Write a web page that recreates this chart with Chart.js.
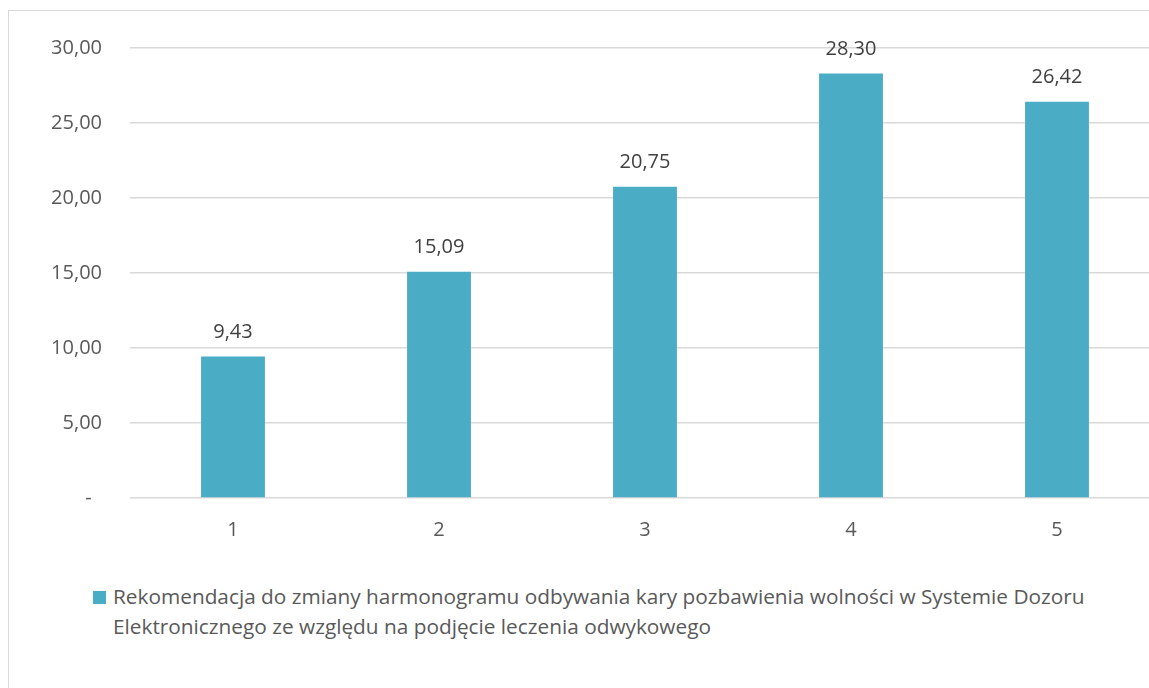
<!DOCTYPE html>
<html>
<head>
<meta charset="utf-8">
<script src="https://cdn.jsdelivr.net/npm/chart.js@4"></script>
<style>
    html, body {
        margin: 0;
        padding: 0;
        background: #ffffff;
        overflow: hidden;
        width: 1149px;
        height: 688px;
        font-family: "Open Sans", sans-serif;
    }
    .frame {
        position: absolute;
        left: 8px;
        top: 10px;
        width: 1200px;
        height: 700px;
        border: 1.5px solid #d9d9d9;
    }
    .chart-wrap {
        position: absolute;
        left: 0;
        top: 0;
        width: 1162px;
        height: 554px;
    }
    .legend {
        position: absolute;
        left: 113px;
        top: 581px;
        width: 1000px;
        font-size: 20.8px;
        line-height: 30px;
        color: #595959;
        text-indent: -20px;
    }
    .legend .swatch {
        display: inline-block;
        width: 13px;
        height: 13px;
        background: #4bacc6;
        margin-right: 7px;
        vertical-align: 0px;
    }
</style>
</head>
<body>
<div class="frame"></div>
<div class="chart-wrap"><canvas id="chart"></canvas></div>
<div class="legend" id="legend"></div>

<script>
// Chart data
const categories = ['1', '2', '3', '4', '5'];
const seriesName = 'Rekomendacja do zmiany harmonogramu odbywania kary pozbawienia wolności w Systemie Dozoru Elektronicznego ze względu na podjęcie leczenia odwykowego';
const seriesValues = [9.43, 15.09, 20.75, 28.30, 26.42];
const yTicks = [0, 5, 10, 15, 20, 25, 30];

const barColor = '#4bacc6';
const fontFamily = '"Open Sans", sans-serif';

/**
 * Format number with comma decimal separator
 */
function formatValue(v) {
    return v.toFixed(2).replace('.', ',');
}

/**
 * Value labels above bars
 */
const valueLabels = {
    id: 'valueLabels',
    afterDatasetsDraw(chart) {
        const ctx = chart.ctx;
        const meta = chart.getDatasetMeta(0);
        ctx.save();
        ctx.font = '20px ' + fontFamily;
        ctx.fillStyle = '#404040';
        ctx.textAlign = 'center';
        ctx.textBaseline = 'middle';
        meta.data.forEach((bar, i) => {
            ctx.fillText(formatValue(seriesValues[i]), bar.x, bar.y - 24);
        });
        ctx.restore();
    }
};

const ctx = document.getElementById('chart');

new Chart(ctx, {
    type: 'bar',
    data: {
        labels: categories,
        datasets: [{
            label: seriesName,
            data: seriesValues,
            backgroundColor: barColor,
            borderWidth: 0,
            categoryPercentage: 1,
            barPercentage: 0.31
        }]
    },
    options: {
        responsive: true,
        maintainAspectRatio: false,
        animation: false,
        layout: {
            padding: { top: 48, left: 0, right: 2, bottom: 0 }
        },
        plugins: {
            legend: { display: false },
            tooltip: { enabled: false }
        },
        scales: {
            x: {
                grid: { display: false },
                border: { display: false },
                ticks: {
                    color: '#595959',
                    font: { family: fontFamily, size: 20 },
                    padding: 12
                }
            },
            y: {
                min: 0,
                max: 30,
                afterBuildTicks(axis) {
                    axis.ticks = yTicks.map(v => ({ value: v }));
                },
                afterFit(axis) {
                    axis.width = 130;
                },
                grid: {
                    color: '#d9d9d9',
                    lineWidth: 1.5,
                    drawTicks: false
                },
                border: { display: false },
                ticks: {
                    color: '#595959',
                    font: { family: fontFamily, size: 20 },
                    padding: 28,
                    callback: v => v === 0 ? '-  ' : formatValue(v)
                }
            }
        }
    },
    plugins: [valueLabels]
});

// HTML legend
document.getElementById('legend').innerHTML =
    '<span class="swatch"></span>' + seriesName;
</script>
</body>
</html>
